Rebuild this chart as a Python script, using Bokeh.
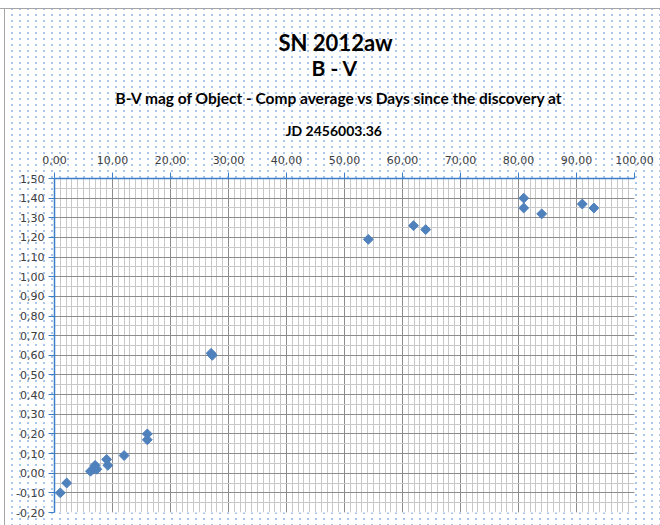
import numpy as np
from bokeh.plotting import figure
from bokeh.models import Range1d, FixedTicker, CustomJSTickFormatter, Title
from bokeh.embed import file_html
from bokeh.resources import INLINE

# ---- data ----
days = [1.0, 2.1, 6.2, 6.7, 7.0, 7.3, 9.0, 9.2, 12.0, 16.0, 16.0, 27.0, 27.2,
        54.1, 61.9, 64.0, 80.9, 80.9, 84.0, 91.0, 93.0]
bv = [-0.10, -0.05, 0.01, 0.02, 0.04, 0.02, 0.07, 0.04, 0.09, 0.20, 0.17, 0.61, 0.60,
      1.19, 1.26, 1.24, 1.40, 1.35, 1.32, 1.37, 1.35]

x_ticks = [0, 10, 20, 30, 40, 50, 60, 70, 80, 90, 100]
y_ticks = [-0.2, -0.1, 0.0, 0.1, 0.2, 0.3, 0.4, 0.5, 0.6, 0.7, 0.8, 0.9,
           1.0, 1.1, 1.2, 1.3, 1.4, 1.5]
x_minor = list(range(0, 101, 1))
y_minor = [round(v, 2) for v in np.arange(-0.2, 1.5001, 0.05)]

title_lines = ["SN 2012aw", "B - V",
               "B-V mag of Object - Comp average  vs  Days since the discovery at",
               "JD 2456003.36"]

W, H = 660, 525
ML, MR, MT, MB = 54, 26, 178, 13

p = figure(width=W, height=H, output_backend="svg", toolbar_location=None,
           x_axis_location="above", title=None,
           x_range=Range1d(0, 100), y_range=Range1d(-0.2, 1.5),
           min_border_left=ML, min_border_right=MR,
           min_border_top=MT, min_border_bottom=MB)
p.outline_line_color = None
p.background_fill_color = "white"
p.border_fill_alpha = 0
p.styles = {
    "background-color": "white",
    "background-image": ("linear-gradient(#a6a6a6,#a6a6a6), linear-gradient(#a6a6a6,#a6a6a6), "
                         "linear-gradient(#fff,#fff), linear-gradient(#fff,#fff), "
                         "radial-gradient(circle, #a9c4e8 0.7px, rgba(255,255,255,0) 1.2px)"),
    "background-size": "100% 1px, 1px 100%, 100% 8px, 4px 100%, 8px 6px",
    "background-position": "0 8px, 4px 8px, 0 0, 0 0, 0 0",
    "background-repeat": "no-repeat, no-repeat, no-repeat, no-repeat, repeat",
}

fmt = CustomJSTickFormatter(code="return tick.toFixed(2).replace('.', ',');")
axis_blue = "#3A7FC8"

xa = p.xaxis[0]
xa.ticker = FixedTicker(ticks=x_ticks, minor_ticks=x_minor)
ya = p.yaxis[0]
ya.ticker = FixedTicker(ticks=y_ticks, minor_ticks=y_minor)
for ax in (xa, ya):
    ax.formatter = fmt
    ax.axis_line_color = axis_blue
    ax.axis_line_width = 1.5
    ax.major_tick_line_color = axis_blue
    ax.major_tick_out = 6
    ax.major_tick_in = 0
    ax.minor_tick_out = 0
    ax.minor_tick_in = 0
    ax.major_label_text_font = "DejaVu Sans"
    ax.major_label_text_font_size = "11px"
    ax.major_label_text_color = "#404040"
    ax.major_label_standoff = 4
xa.major_label_standoff = 9

for g in (p.xgrid[0], p.ygrid[0]):
    g.grid_line_color = "#8c8c8c"
    g.grid_line_width = 1
    g.minor_grid_line_color = "#c8c8c8"
    g.minor_grid_line_width = 1

p.scatter(days, bv, marker="square", angle=np.pi / 4, size=7,
          fill_color="#4F81BD", line_color="#4F81BD")

# titles, stacked outward from the axis: (text, size, standoff, left offset)
specs = [(title_lines[3], "14px", 28, 231), (title_lines[2], "15.5px", -2, 61),
         (title_lines[1], "21px", 16, 257), (title_lines[0], "22px", -22, 224)]
for txt, fs, so, off in specs:
    p.add_layout(Title(text=txt, align="left", offset=off, text_font="Lato",
                       text_font_style="bold", text_font_size=fs,
                       text_color="#000000", standoff=so), "above")

open("out.html", "w").write(file_html(p, INLINE))
